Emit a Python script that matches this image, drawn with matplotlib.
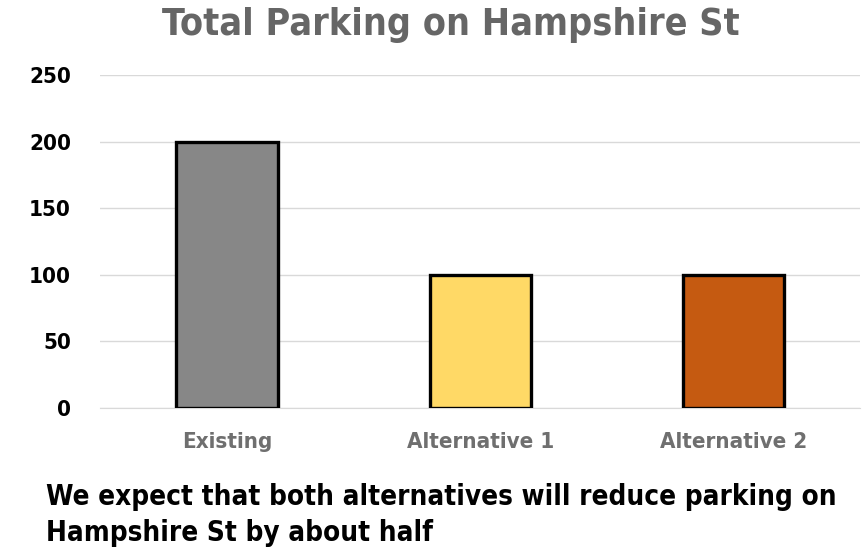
import matplotlib.pyplot as plt

categories = ["Existing", "Alternative 1", "Alternative 2"]
parking = [200, 100, 100]
bar_colors = ["#878787", "#FFD966", "#C55A11"]

plt.rcParams["font.family"] = ["DejaVu Sans"]
plt.rcParams["font.stretch"] = "condensed"

fig = plt.figure(figsize=(8.63, 5.49), dpi=100)
ax = fig.add_axes([0.116, 0.257, 0.881, 0.606])

ax.bar(range(len(categories)), parking, width=0.4, color=bar_colors,
       edgecolor="black", linewidth=2.4, zorder=3)

ax.set_xlim(-0.5, 2.5)
ax.set_ylim(0, 250)
ax.set_yticks([0, 50, 100, 150, 200, 250])
ax.set_xticks(range(len(categories)))
ax.set_xticklabels(categories, color="#6f6f6f", fontsize=16, fontweight="bold",
                   fontstretch="condensed")
for lbl in ax.get_yticklabels():
    lbl.set_fontsize(16)
    lbl.set_fontweight("bold")
    lbl.set_fontstretch("condensed")
ax.tick_params(axis="both", length=0)
ax.tick_params(axis="x", pad=17)
ax.tick_params(axis="y", pad=21)
ax.grid(axis="y", color="#d9d9d9", linewidth=1, zorder=0)
for s in ["top", "right", "left"]:
    ax.spines[s].set_visible(False)
ax.spines["bottom"].set_color("#d9d9d9")

fig.text(0.522, 0.955, "Total Parking on Hampshire St", ha="center", va="center",
         fontsize=27, fontweight="bold", color="#666666", fontstretch="condensed")
fig.text(0.053, 0.062, "We expect that both alternatives will reduce parking on\nHampshire St by about half",
         ha="left", va="center", fontsize=20, fontweight="bold", color="black",
         linespacing=1.4, fontstretch="condensed")

fig.savefig("out.png", dpi=100)
